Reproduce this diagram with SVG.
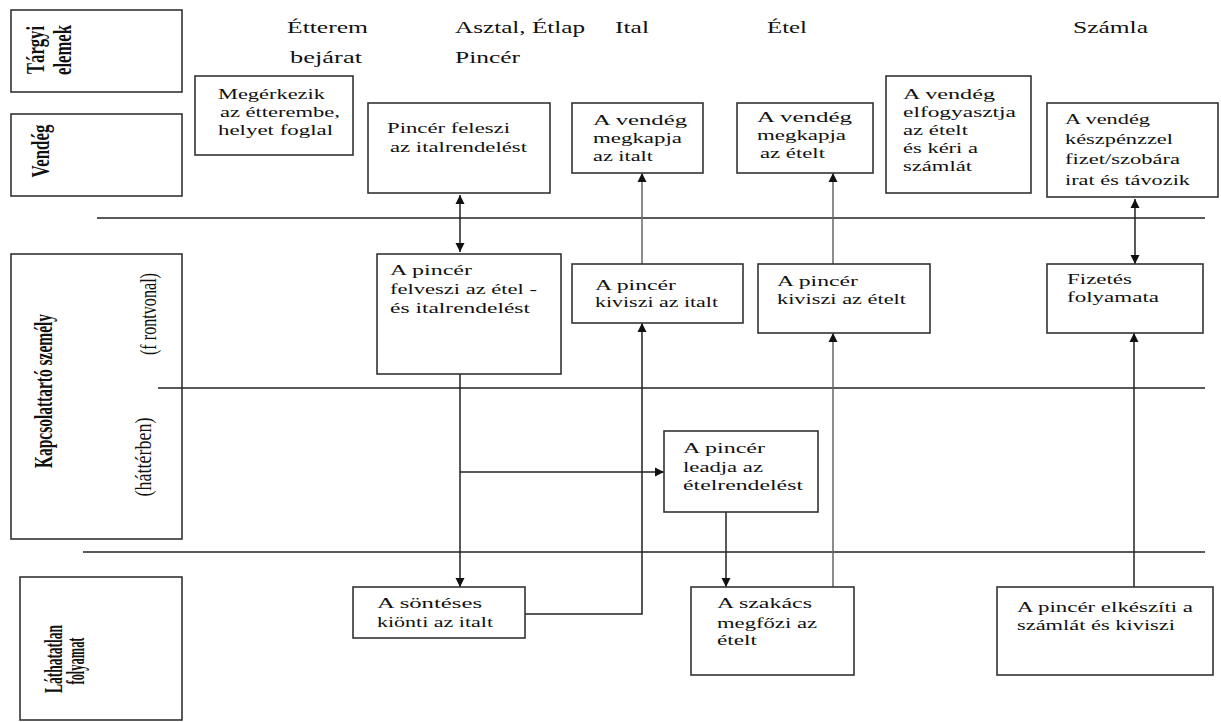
<svg xmlns="http://www.w3.org/2000/svg" width="1221" height="722" viewBox="0 0 1221 722">
<style>
.bg{fill:#fff}
.box{fill:#fff;stroke:#333;stroke-width:1.6}
.lanebox{fill:none;stroke:#333;stroke-width:1.6}
.t{font-family:"Liberation Serif",serif;font-size:15px;fill:#111}
.lbl{font-family:"Liberation Serif",serif;font-size:17px;fill:#111}
.lane{font-family:"Liberation Serif",serif;font-size:25px;font-weight:bold;fill:#111}
.sub{font-family:"Liberation Serif",serif;font-size:24px;fill:#111}
.sep{stroke:#222;stroke-width:1.4;fill:none}
.c{stroke:#222;stroke-width:1.5;fill:none}
.g{stroke:#666;stroke-width:1.5;fill:none}
</style>
<defs>
<marker id="ah" viewBox="0 0 10 10" refX="10" refY="5" markerWidth="9" markerHeight="10" markerUnits="userSpaceOnUse" orient="auto-start-reverse"><path d="M0,0 L10,5 L0,10 z" fill="#111"/></marker>
</defs>
<rect class="bg" x="0" y="0" width="1221" height="722"/>

<g id="lanes">
<line class="sep" x1="97" y1="218" x2="1205" y2="218"/>
<line class="sep" x1="158" y1="388" x2="1205" y2="388"/>
<line class="sep" x1="83" y1="552" x2="1205" y2="552"/>
</g>

<g id="lane-targyi">
<rect class="lanebox" x="11" y="10" width="171" height="82"/>
<text class="lane" transform="translate(44,50) rotate(-90)" text-anchor="middle" textLength="48" lengthAdjust="spacingAndGlyphs">Tárgyi</text>
<text class="lane" transform="translate(71,50) rotate(-90)" text-anchor="middle" textLength="50" lengthAdjust="spacingAndGlyphs">elemek</text>
</g>
<g id="lane-vendeg">
<rect class="lanebox" x="11" y="114" width="171" height="82"/>
<text class="lane" transform="translate(49,151) rotate(-90)" text-anchor="middle" textLength="53" lengthAdjust="spacingAndGlyphs">Vendég</text>
</g>
<g id="lane-kapcsolat">
<rect class="lanebox" x="11" y="254" width="171" height="285"/>
<text class="lane" transform="translate(52,391) rotate(-90)" text-anchor="middle" textLength="154" lengthAdjust="spacingAndGlyphs">Kapcsolattartó személy</text>
<text class="sub" transform="translate(156,314) rotate(-90)" text-anchor="middle" textLength="82" lengthAdjust="spacingAndGlyphs">(f rontvonal)</text>
<text class="sub" transform="translate(151,457) rotate(-90)" text-anchor="middle" textLength="79" lengthAdjust="spacingAndGlyphs">(háttérben)</text>
</g>
<g id="lane-lathatatlan">
<rect class="lanebox" x="20" y="577" width="162" height="143"/>
<text class="lane" transform="translate(62,659) rotate(-90)" text-anchor="middle" textLength="68" lengthAdjust="spacingAndGlyphs">Láthatatlan</text>
<text class="lane" transform="translate(84,661) rotate(-90)" text-anchor="middle" textLength="47" lengthAdjust="spacingAndGlyphs">folyamat</text>
</g>

<g id="header">
<text class="lbl" x="287" y="33" textLength="81" lengthAdjust="spacingAndGlyphs">Étterem</text>
<text class="lbl" x="290" y="63" textLength="72" lengthAdjust="spacingAndGlyphs">bejárat</text>
<text class="lbl" x="455" y="33" textLength="130" lengthAdjust="spacingAndGlyphs">Asztal, Étlap</text>
<text class="lbl" x="455" y="63" textLength="65" lengthAdjust="spacingAndGlyphs">Pincér</text>
<text class="lbl" x="615" y="33" textLength="34" lengthAdjust="spacingAndGlyphs">Ital</text>
<text class="lbl" x="767" y="33" textLength="40" lengthAdjust="spacingAndGlyphs">Étel</text>
<text class="lbl" x="1073" y="33" textLength="75" lengthAdjust="spacingAndGlyphs">Számla</text>
</g>

<g id="connectors">
<path class="c" d="M460,195 V252" marker-start="url(#ah)" marker-end="url(#ah)"/>
<path class="c" d="M460,374 V587" marker-end="url(#ah)"/>
<path class="c" d="M460,472 H664" marker-end="url(#ah)"/>
<path class="c" d="M525,614 H642 V323" marker-end="url(#ah)"/>
<path class="g" d="M642,264 V173" marker-end="url(#ah)"/>
<path class="c" d="M726,512 V587" marker-end="url(#ah)"/>
<path class="g" d="M833,587 V333" marker-end="url(#ah)"/>
<path class="g" d="M833,264 V173" marker-end="url(#ah)"/>
<path class="c" d="M1135,199 V264" marker-start="url(#ah)" marker-end="url(#ah)"/>
<path class="c" d="M1134,587 V333" marker-end="url(#ah)"/>
</g>

<g id="n-megerkezik">
<rect class="box" x="195" y="76" width="158" height="79"/>
<text class="t" x="218" y="99" textLength="107" lengthAdjust="spacingAndGlyphs">Megérkezik</text>
<text class="t" x="220" y="117" textLength="120" lengthAdjust="spacingAndGlyphs">az étterembe,</text>
<text class="t" x="218" y="135" textLength="115" lengthAdjust="spacingAndGlyphs">helyet foglal</text>
</g>
<g id="n-feleszi">
<rect class="box" x="368" y="103" width="182" height="90"/>
<text class="t" x="387" y="133" textLength="123" lengthAdjust="spacingAndGlyphs">Pincér feleszi</text>
<text class="t" x="390" y="152" textLength="137" lengthAdjust="spacingAndGlyphs">az italrendelést</text>
</g>
<g id="n-megkapja-ital">
<rect class="box" x="572" y="103" width="131" height="70"/>
<text class="t" x="593" y="125" textLength="94" lengthAdjust="spacingAndGlyphs">A vendég</text>
<text class="t" x="593" y="143" textLength="89" lengthAdjust="spacingAndGlyphs">megkapja</text>
<text class="t" x="593" y="161" textLength="60" lengthAdjust="spacingAndGlyphs">az italt</text>
</g>
<g id="n-megkapja-etel">
<rect class="box" x="737" y="103" width="136" height="70"/>
<text class="t" x="757" y="122" textLength="95" lengthAdjust="spacingAndGlyphs">A vendég</text>
<text class="t" x="757" y="140" textLength="89" lengthAdjust="spacingAndGlyphs">megkapja</text>
<text class="t" x="760" y="158" textLength="65" lengthAdjust="spacingAndGlyphs">az ételt</text>
</g>
<g id="n-elfogyasztja">
<rect class="box" x="886" y="76" width="145" height="117"/>
<text class="t" x="903" y="99" textLength="92" lengthAdjust="spacingAndGlyphs">A vendég</text>
<text class="t" x="903" y="117" textLength="113" lengthAdjust="spacingAndGlyphs">elfogyasztja</text>
<text class="t" x="903" y="135" textLength="65" lengthAdjust="spacingAndGlyphs">az ételt</text>
<text class="t" x="903" y="153" textLength="75" lengthAdjust="spacingAndGlyphs">és kéri a</text>
<text class="t" x="903" y="171" textLength="69" lengthAdjust="spacingAndGlyphs">számlát</text>
</g>
<g id="n-fizet">
<rect class="box" x="1047" y="103" width="171" height="94"/>
<text class="t" x="1065" y="124" textLength="85" lengthAdjust="spacingAndGlyphs" fill="#333">A vendég</text>
<text class="t" x="1065" y="144" textLength="108" lengthAdjust="spacingAndGlyphs" fill="#333">készpénzzel</text>
<text class="t" x="1065" y="164" textLength="115" lengthAdjust="spacingAndGlyphs" fill="#333">fizet/szobára</text>
<text class="t" x="1065" y="185" textLength="125" lengthAdjust="spacingAndGlyphs" fill="#333">irat és távozik</text>
</g>

<g id="n-felveszi">
<rect class="box" x="377" y="254" width="184" height="120"/>
<text class="t" x="390" y="275" textLength="82" lengthAdjust="spacingAndGlyphs">A pincér</text>
<text class="t" x="390" y="294" textLength="147" lengthAdjust="spacingAndGlyphs">felveszi az étel -</text>
<text class="t" x="390" y="313" textLength="140" lengthAdjust="spacingAndGlyphs">és italrendelést</text>
</g>
<g id="n-kiviszi-ital">
<rect class="box" x="572" y="264" width="171" height="59"/>
<text class="t" x="595" y="290" textLength="81" lengthAdjust="spacingAndGlyphs">A pincér</text>
<text class="t" x="595" y="307" textLength="123" lengthAdjust="spacingAndGlyphs">kiviszi az italt</text>
</g>
<g id="n-kiviszi-etel">
<rect class="box" x="758" y="264" width="172" height="69"/>
<text class="t" x="777" y="286" textLength="81" lengthAdjust="spacingAndGlyphs">A pincér</text>
<text class="t" x="777" y="304" textLength="129" lengthAdjust="spacingAndGlyphs">kiviszi az ételt</text>
</g>
<g id="n-fizetes">
<rect class="box" x="1047" y="264" width="156" height="69"/>
<text class="t" x="1067" y="284" textLength="65" lengthAdjust="spacingAndGlyphs">Fizetés</text>
<text class="t" x="1067" y="302" textLength="92" lengthAdjust="spacingAndGlyphs">folyamata</text>
</g>
<g id="n-leadja">
<rect class="box" x="664" y="431" width="154" height="81"/>
<text class="t" x="683" y="453" textLength="82" lengthAdjust="spacingAndGlyphs">A pincér</text>
<text class="t" x="683" y="472" textLength="80" lengthAdjust="spacingAndGlyphs">leadja az</text>
<text class="t" x="683" y="490" textLength="120" lengthAdjust="spacingAndGlyphs">ételrendelést</text>
</g>

<g id="n-sontes">
<rect class="box" x="353" y="587" width="172" height="51"/>
<text class="t" x="377" y="608" textLength="105" lengthAdjust="spacingAndGlyphs">A söntéses</text>
<text class="t" x="377" y="627" textLength="116" lengthAdjust="spacingAndGlyphs">kiönti az italt</text>
</g>
<g id="n-szakacs">
<rect class="box" x="691" y="587" width="163" height="88"/>
<text class="t" x="717" y="608" textLength="95" lengthAdjust="spacingAndGlyphs">A szakács</text>
<text class="t" x="717" y="628" textLength="100" lengthAdjust="spacingAndGlyphs">megfőzi az</text>
<text class="t" x="717" y="645" textLength="40" lengthAdjust="spacingAndGlyphs">ételt</text>
</g>
<g id="n-szamla">
<rect class="box" x="997" y="587" width="216" height="88"/>
<text class="t" x="1017" y="612" textLength="176" lengthAdjust="spacingAndGlyphs">A pincér elkészíti a</text>
<text class="t" x="1017" y="630" textLength="158" lengthAdjust="spacingAndGlyphs">számlát és kiviszi</text>
</g>
</svg>
